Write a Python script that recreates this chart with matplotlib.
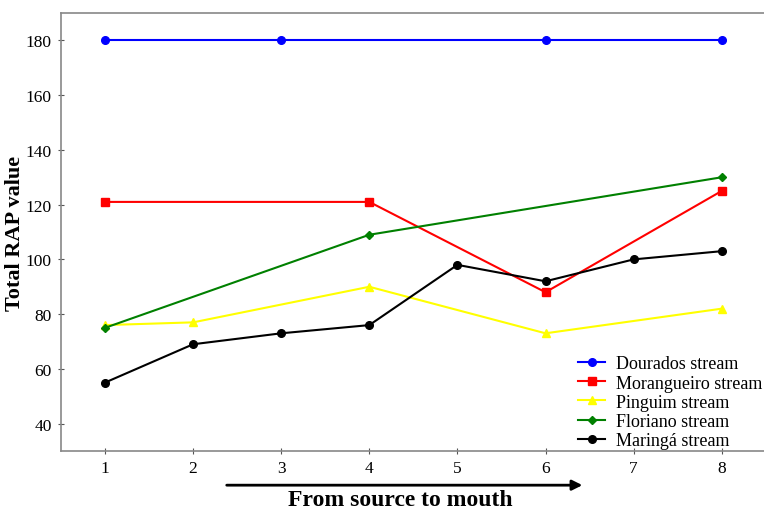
import matplotlib
matplotlib.use("Agg")
import matplotlib.pyplot as plt

dourados_x = [1, 3, 6, 8]
dourados_y = [180, 180, 180, 180]
morang_x = [1, 4, 6, 8]
morang_y = [121, 121, 88, 125]
pinguim_x = [1, 2, 4, 6, 8]
pinguim_y = [76, 77, 90, 73, 82]
floriano_x = [1, 4, 8]
floriano_y = [75, 109, 130]
maringa_x = [1, 2, 3, 4, 5, 6, 7, 8]
maringa_y = [55, 69, 73, 76, 98, 92, 100, 103]

xticks = [1, 2, 3, 4, 5, 6, 7, 8]
yticks = [40, 60, 80, 100, 120, 140, 160, 180]

plt.rcParams['font.family'] = ['Liberation Serif', 'DejaVu Serif']

fig = plt.figure(figsize=(7.64, 5.10), dpi=100)
ax = fig.add_axes([0.0798, 0.1137, 0.9202, 0.8588])

ax.plot(dourados_x, dourados_y, color='#0000ff', marker='o', ms=5.5, lw=1.5, label='Dourados stream')
ax.plot(morang_x, morang_y, color='#ff0000', marker='s', ms=5.5, lw=1.5, label='Morangueiro stream')
ax.plot(pinguim_x, pinguim_y, color='#ffff00', marker='^', ms=5.5, lw=1.5, label='Pinguim stream')
ax.plot(floriano_x, floriano_y, color='#008000', marker='D', ms=4.5, lw=1.5, label='Floriano stream')
ax.plot(maringa_x, maringa_y, color='#000000', marker='o', ms=5.5, lw=1.5, label='Maringá stream')

ax.set_xlim(0.5, 8.48)
ax.set_ylim(30, 190)
ax.set_xticks(xticks)
ax.set_yticks(yticks)
ax.tick_params(labelsize=12.5, direction='inout', length=5, color='#555555')
ax.tick_params(axis='x', pad=4)
ax.tick_params(axis='y', pad=4)
for s in ['left', 'bottom', 'top']:
    ax.spines[s].set_color('#888888')
    ax.spines[s].set_linewidth(1.2)
ax.spines['right'].set_visible(False)

fig.text(15 / 764, 1 - 233 / 510, 'Total RAP value', rotation=90, ha='center', va='center',
         fontsize=16, fontweight='bold')

leg = ax.legend(loc='lower right', frameon=False, fontsize=13, handlelength=1.5,
                handletextpad=0.6, labelspacing=0.12, borderaxespad=0.0,
                bbox_to_anchor=(1.008, -0.012))

ax.annotate('', xy=(6.45, -0.078), xytext=(2.35, -0.078),
            xycoords=('data', 'axes fraction'), textcoords=('data', 'axes fraction'),
            arrowprops=dict(arrowstyle='-|>', color='black', lw=2, mutation_scale=15),
            annotation_clip=False)
ax.text(4.35, -0.11, 'From source to mouth', transform=ax.get_xaxis_transform(),
        ha='center', va='center', fontsize=17, fontweight='bold')

fig.savefig('out.png', dpi=100)
